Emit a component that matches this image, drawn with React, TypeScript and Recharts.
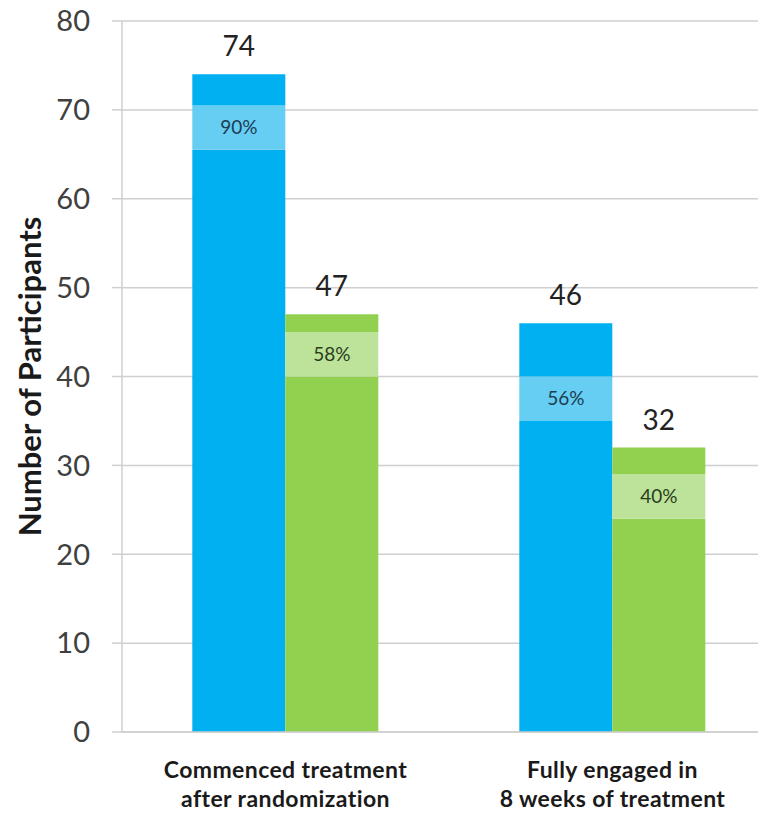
import React from 'react';
import { Bar, BarChart, CartesianGrid, LabelList, XAxis, YAxis, Label } from 'recharts';

const categories = ['Commenced treatment\nafter randomization', 'Fully engaged in\n8 weeks of treatment'];
const blueCounts = [74, 46];
const greenCounts = [47, 32];
const bluePercents = ['90%', '56%'];
const greenPercents = ['58%', '40%'];
// lower / upper edge of the lighter percentage band inside each bar
const blueBandLow = [65.5, 35];
const blueBandHigh = [70.5, 40];
const greenBandLow = [40, 24];
const greenBandHigh = [45, 29];
const yTicks = [0, 10, 20, 30, 40, 50, 60, 70, 80];

const data = categories.map((name, i) => ({
  name,
  blueBase: blueBandLow[i],
  blueBand: blueBandHigh[i] - blueBandLow[i],
  blueTop: blueCounts[i] - blueBandHigh[i],
  blueTotal: blueCounts[i],
  bluePct: bluePercents[i],
  greenBase: greenBandLow[i],
  greenBand: greenBandHigh[i] - greenBandLow[i],
  greenTop: greenCounts[i] - greenBandHigh[i],
  greenTotal: greenCounts[i],
  greenPct: greenPercents[i],
}));

const FONT = 'Lato, "Open Sans", sans-serif';
const BLUE = '#00b0f0';
const BLUE_LIGHT = '#66cdf3';
const GREEN = '#92d050';
const GREEN_LIGHT = '#bde39a';

const CategoryTick = ({ x, y, payload }: any) => {
  const lines = String(payload.value).split('\n');
  return (
    <text x={x} y={y} textAnchor="middle" fontFamily={FONT} fontWeight={700} fontSize={23} letterSpacing={0.4} fill="#1a1a1a">
      {lines.map((line, i) => (
        <tspan key={i} x={x} dy={i === 0 ? 38 : 29}>
          {line}
        </tspan>
      ))}
    </text>
  );
};

export default function App() {
  return (
    <div style={{ margin: '-8px 0 0 -8px', width: 766, height: 813, overflow: 'hidden', background: '#fff' }}>
      <BarChart
        width={776}
        height={813}
        data={data}
        margin={{ top: 21, right: 0, left: 0, bottom: 0 }}
        barCategoryGap="21.5%"
        barGap={0}
      >
        <CartesianGrid vertical={false} stroke="#cfcfcf" strokeWidth={1.5} />
        <XAxis
          dataKey="name"
          height={81}
          axisLine={{ stroke: '#cfcfcf', strokeWidth: 1.5 }}
          tickLine={false}
          tick={<CategoryTick />}
          interval={0}
        />
        <YAxis
          width={122}
          domain={[0, 80]}
          ticks={yTicks}
          tickSize={10}
          tickMargin={22}
          axisLine={{ stroke: '#cfcfcf', strokeWidth: 1.5 }}
          tickLine={{ stroke: '#cfcfcf', strokeWidth: 1.5 }}
          tick={{ fontSize: 29, fill: '#404040', fontFamily: FONT }}
        >
          <Label
            value="Number of Participants"
            angle={-90}
            position="insideLeft"
            offset={30}
            style={{ textAnchor: 'middle', fontSize: 31, fontWeight: 700, fill: '#1a1a1a', fontFamily: FONT }}
          />
        </YAxis>
        <Bar dataKey="blueBase" stackId="blue" fill={BLUE} isAnimationActive={false} />
        <Bar dataKey="blueBand" stackId="blue" fill={BLUE_LIGHT} isAnimationActive={false}>
          <LabelList dataKey="bluePct" position="center" fontSize={19} fill="#1d3d52" fontFamily={FONT} />
        </Bar>
        <Bar dataKey="blueTop" stackId="blue" fill={BLUE} isAnimationActive={false}>
          <LabelList dataKey="blueTotal" position="top" offset={18} fontSize={28} fill="#222" fontFamily={FONT} />
        </Bar>
        <Bar dataKey="greenBase" stackId="green" fill={GREEN} isAnimationActive={false} />
        <Bar dataKey="greenBand" stackId="green" fill={GREEN_LIGHT} isAnimationActive={false}>
          <LabelList dataKey="greenPct" position="center" fontSize={19} fill="#2b3d1c" fontFamily={FONT} />
        </Bar>
        <Bar dataKey="greenTop" stackId="green" fill={GREEN} isAnimationActive={false}>
          <LabelList dataKey="greenTotal" position="top" offset={18} fontSize={28} fill="#222" fontFamily={FONT} />
        </Bar>
      </BarChart>
    </div>
  );
}
